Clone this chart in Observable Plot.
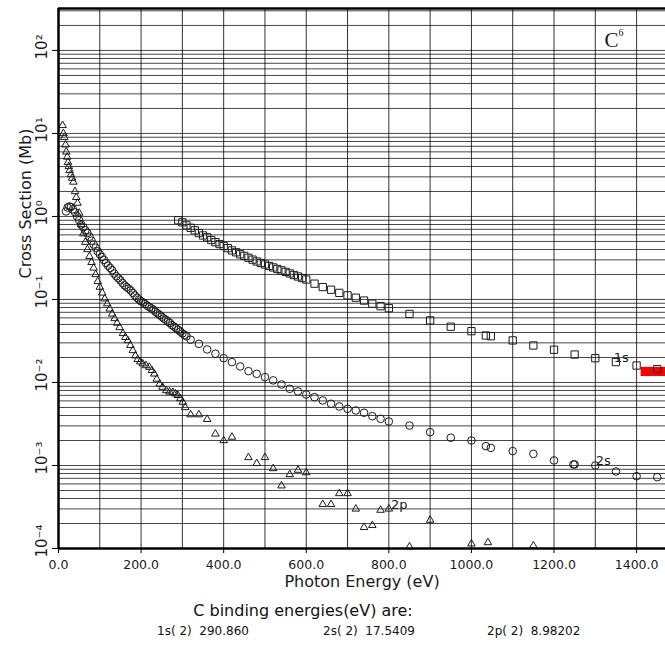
<!DOCTYPE html>
<html><head><meta charset="utf-8">
<script src="https://cdn.jsdelivr.net/npm/d3@7"></script>
<script src="https://cdn.jsdelivr.net/npm/@observablehq/plot@0.6"></script>
<style>
body{margin:0;background:#fff;font-family:"DejaVu Sans",sans-serif;}
#wrap{position:relative;width:665px;height:645px;overflow:hidden;background:#fff;}
.cap{position:absolute;white-space:pre;color:#111;font-family:"DejaVu Sans",sans-serif;}
</style></head><body><div id="wrap"></div>
<script>
// ---- data (photon energy eV, cross section Mb) ----
const s1sDense = [[290,0.90],[300,0.85],[310,0.78],[320,0.73],[330,0.68],[340,0.63],[350,0.59],[360,0.56],[370,0.52],[380,0.49],[390,0.465],[400,0.44],[410,0.415],[420,0.39],[430,0.37],[440,0.35],[450,0.335],[460,0.318],[470,0.302],[480,0.287],[490,0.275],[500,0.264],[510,0.253],[520,0.243],[530,0.233],[540,0.224],[550,0.215],[560,0.206],[570,0.197],[580,0.189],[590,0.181],[600,0.174]];
const s1sSparse = [[620,0.155],[640,0.141],[660,0.131],[680,0.120],[700,0.112],[720,0.105],[740,0.097],[760,0.089],[780,0.083],[800,0.0785],[850,0.067],[900,0.056],[950,0.047],[1000,0.0415],[1035,0.0368],[1047,0.0361],[1100,0.0321],[1150,0.0279],[1200,0.0248],[1250,0.0217],[1300,0.0196],[1350,0.0176],[1400,0.0160],[1450,0.0145]];
const s2sDense = [[18,1.15],[22,1.28],[26,1.32],[30,1.30],[35,1.22],[40,1.12],[45,1.0],[50,0.90],[55,0.80],[60,0.74],[65,0.68],[70,0.63],[75,0.57],[80,0.51],[85,0.46],[90,0.42],[95,0.38],[100,0.35],[105,0.325],[110,0.30],[115,0.275],[120,0.255],[125,0.24],[130,0.225],[135,0.205],[140,0.19],[145,0.18],[150,0.17],[155,0.158],[160,0.148],[165,0.141],[170,0.135],[175,0.128],[180,0.12],[185,0.112],[190,0.105],[195,0.10],[200,0.095],[205,0.092],[210,0.088],[215,0.084],[220,0.081],[225,0.078],[230,0.075],[235,0.071],[240,0.068],[245,0.065],[250,0.062],[255,0.059],[260,0.057],[265,0.054],[270,0.052],[275,0.049],[280,0.047],[285,0.045],[290,0.043],[295,0.041],[300,0.039],[305,0.0375],[310,0.036]];
const s2sSparse = [[320,0.0327],[340,0.0292],[360,0.0250],[380,0.0222],[400,0.0196],[420,0.0176],[440,0.0156],[460,0.0137],[480,0.0127],[500,0.0116],[520,0.0106],[540,0.00946],[560,0.00839],[580,0.00780],[600,0.00717],[620,0.00665],[640,0.00607],[660,0.00554],[680,0.00514],[700,0.00482],[720,0.00460],[740,0.00432],[760,0.00393],[780,0.00365],[800,0.00339],[850,0.00303],[900,0.00252],[950,0.00216],[1000,0.00200],[1035,0.00171],[1047,0.00163],[1100,0.00149],[1150,0.00138],[1200,0.00115],[1247,0.00103],[1250,0.00103],[1300,0.00100],[1350,0.000847],[1400,0.000743],[1450,0.000723]];
const s2pDense = [[10,12.5],[12,10.0],[14,9.0],[17,7.3],[19,6.0],[21,5.2],[23,4.5],[25,4.0],[27,3.6],[30,3.2],[33,2.9],[36,2.6],[40,2.0],[43,1.7],[46,1.45],[50,1.10],[55,0.80],[60,0.62],[65,0.49],[70,0.40],[75,0.33],[80,0.28],[85,0.24],[90,0.20],[95,0.165],[100,0.141],[106,0.120],[112,0.102],[118,0.089],[124,0.077],[130,0.067],[136,0.059],[142,0.052],[148,0.046],[156,0.039],[162,0.035],[168,0.032],[174,0.028],[180,0.0243],[186,0.021],[192,0.019],[198,0.0178],[204,0.0168],[212,0.0160],[220,0.0153],[226,0.014],[232,0.0127],[238,0.011],[245,0.0096],[252,0.0088],[261,0.0080],[269,0.0077],[277,0.0076],[283,0.0073],[289,0.0070],[295,0.0064],[301,0.0058],[307,0.0050]];
const s2pSparse = [[320,0.0041],[340,0.0041],[360,0.0036],[380,0.0024],[400,0.0020],[420,0.0022],[460,0.00125],[480,0.00106],[500,0.00125],[520,0.00092],[540,0.00057],[560,0.00078],[580,0.00088],[600,0.00082],[640,0.00034],[660,0.00034],[680,0.00046],[700,0.00046],[720,0.00030],[740,0.00018],[760,0.00019],[780,0.00029],[800,0.00030],[850,0.000105],[900,0.00022],[1000,0.000114],[1040,0.000118],[1150,0.000108]];

const xTicks = [0,200,400,600,800,1000,1200,1400];
const xTickLabels = ["0.0","200.0","400.0","600.0","800.0","1000.0","1200.0","1400.0"];
const yDecades = [1e-4,1e-3,1e-2,1e-1,1,10,100];
const yTickLabels = ["10\u207B\u2074","10\u207B\u00B3","10\u207B\u00B2","10\u207B\u00B9","10\u2070","10\u00B9","10\u00B2"];
const xLabel = ["Photon Energy (eV)"];
const yLabel = ["Cross Section (Mb)"];
const seriesLabels = [{x:1363,y:0.020,text:"1s"},{x:1319,y:0.00115,text:"2s"},{x:825,y:0.000339,text:"2p"}];
const elementLabel = [{x:1322,y:132,text:"C",sup:"6"}];
const highlight = [{x1:1411,x2:1470,y1:0.0118,y2:0.0152}];
const captionTitle = "C binding energies(eV) are:";
const bindingShells = ["1s( 2)  290.860","2s( 2)  17.5409","2p( 2)  8.98202"];

// grid positions
const yGrid = [];
for (let e = -4; e <= 2; e++) for (let m = 1; m <= 9; m++) { const v = m * Math.pow(10, e); if (v <= 320) yGrid.push(v); }
const xGrid = d3.range(100, 1500, 100);
const toObj = a => a.map(([x, y]) => ({x, y}));

const ink = "#1a1a1a";
const plot = Plot.plot({
  width: 665, height: 596,
  marginLeft: 58, marginRight: 0, marginTop: 8, marginBottom: 48,
  style: {fontFamily: "DejaVu Sans, sans-serif", background: "#fff", color: ink},
  x: {domain: [0, 1470], axis: null},
  y: {type: "log", domain: [1e-4, 320], axis: null},
  marks: [
    Plot.ruleY(yGrid, {stroke: "#000", strokeOpacity: 0.72, strokeWidth: 1}),
    Plot.ruleX(xGrid, {stroke: "#000", strokeOpacity: 0.8, strokeWidth: 1}),
    Plot.rect(highlight, {x1: "x1", x2: "x2", y1: "y1", y2: "y2", fill: "#ff0000"}),
    Plot.dot(toObj(s1sDense.concat(s1sSparse)), {x: "x", y: "y", symbol: "square", r: 4.1, stroke: ink, strokeWidth: 1, fill: "none"}),
    Plot.dot(toObj(s2sDense.concat(s2sSparse)), {x: "x", y: "y", symbol: "circle", r: 3.8, stroke: ink, strokeWidth: 1, fill: "none"}),
    Plot.dot(toObj(s2pDense.concat(s2pSparse)), {x: "x", y: "y", symbol: "triangle", r: 2.8, stroke: ink, strokeWidth: 1, fill: "none"}),
    Plot.text(seriesLabels, {x: "x", y: "y", text: "text", fontSize: 13, fill: ink}),
    Plot.text(elementLabel, {x: "x", y: "y", text: "text", fontSize: 21, fontFamily: "Liberation Serif, serif", textAnchor: "start", fill: ink}),
    Plot.text(elementLabel, {x: "x", y: "y", text: "sup", fontSize: 10, fontFamily: "Liberation Serif, serif", textAnchor: "start", dx: 14, dy: -8, fill: ink}),
    Plot.ruleX([0], {stroke: "#000", strokeWidth: 2.5}),
    Plot.ruleY([1e-4, 320], {stroke: "#000", strokeWidth: 2.5}),
    Plot.axisY({ticks: yDecades, tickSize: 6, tickFormat: () => "", label: null, stroke: "#000"}),
    Plot.text(yDecades, {y: d => d, text: (d, i) => yTickLabels[i], frameAnchor: "left", rotate: -90, textAnchor: "start", dx: -16, dy: 9, fontSize: 15, fill: ink}),
    Plot.axisX({ticks: xTicks, tickFormat: (d) => xTickLabels[xTicks.indexOf(d)], tickSize: 5, tickPadding: 7, fontSize: 12.5, label: null, stroke: "#000"}),
    Plot.text(xLabel, {text: d => d, frameAnchor: "bottom", lineAnchor: "middle", dy: 33, fontSize: 16, fill: ink}),
    Plot.text(yLabel, {text: d => d, frameAnchor: "left", rotate: -90, dx: -33, fontSize: 16, fill: ink})
  ]
});
const wrap = document.getElementById("wrap");
wrap.appendChild(plot);
plot.style.position = "absolute"; plot.style.left = "0"; plot.style.top = "0";

const t = document.createElement("div");
t.className = "cap"; t.textContent = captionTitle;
Object.assign(t.style, {left: "0px", width: "606px", textAlign: "center", top: "601px", fontSize: "16px", lineHeight: "20px"});
wrap.appendChild(t);
const lefts = [157, 323, 487];
bindingShells.forEach((s, i) => {
  const d = document.createElement("div");
  d.className = "cap"; d.textContent = s;
  Object.assign(d.style, {left: lefts[i] + "px", top: "623px", fontSize: "12px", lineHeight: "16px"});
  wrap.appendChild(d);
});
</script></body></html>
